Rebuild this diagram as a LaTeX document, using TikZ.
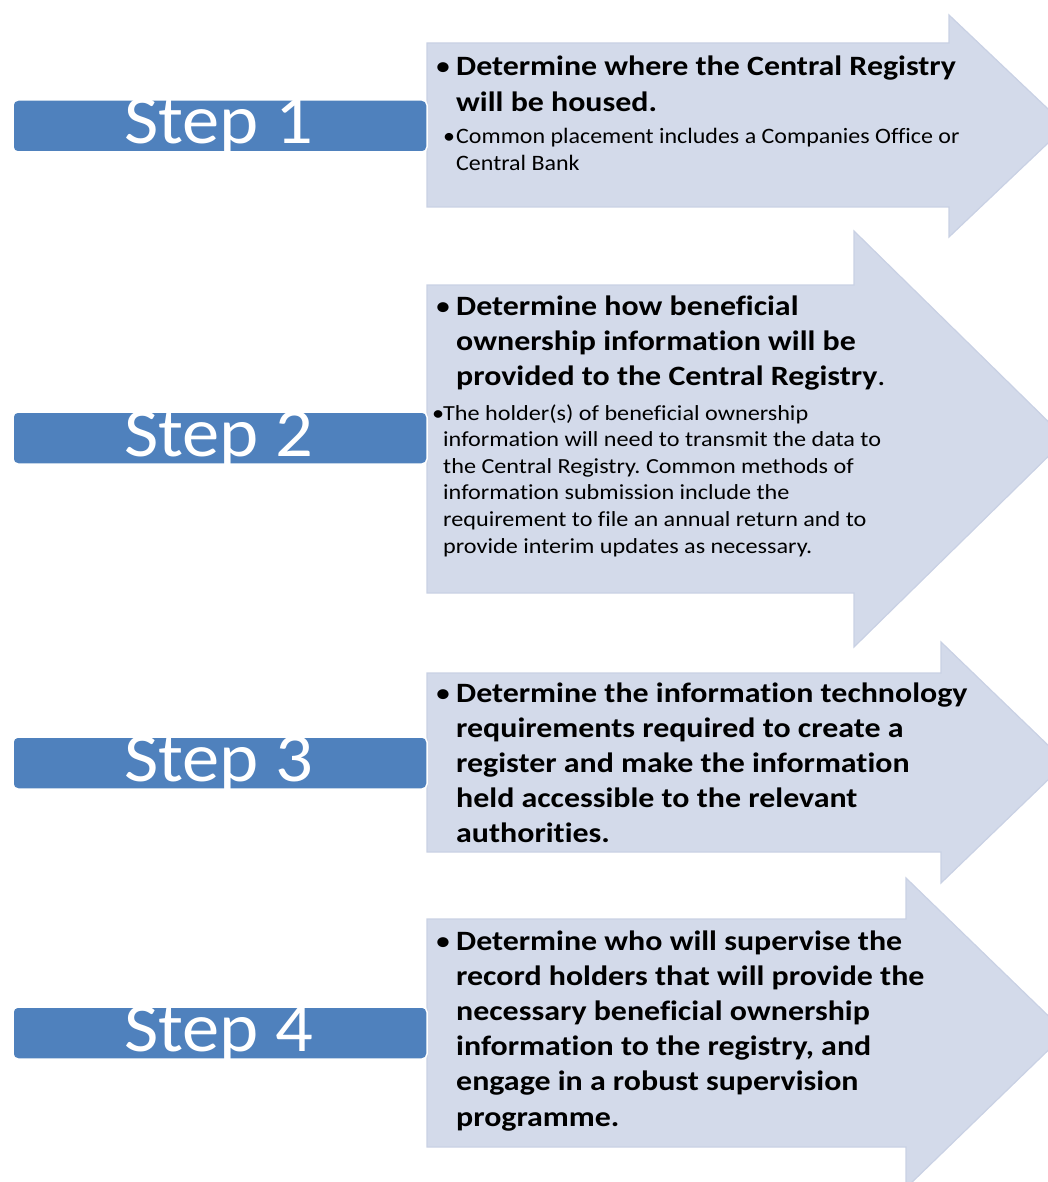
\documentclass[tikz,border=0pt]{standalone}
\usepackage{fontspec}
\setmainfont[Ligatures=NoCommon]{Carlito}
\frenchspacing
\definecolor{arrowfill}{RGB}{211,218,234}
\definecolor{arrowline}{RGB}{201,209,228}
\definecolor{stepblue}{RGB}{79,129,189}
\newcommand\bigarrow[6]{%
  \draw[arrowshape] (427,#1) -- (#3,#1) -- (#3,#4) -- (1066,#6) -- (#3,#5) -- (#3,#2) -- (427,#2) -- cycle;}
\newcommand\blt[1]{\makebox[#1][l]{\mdseries •}}
\begin{document}
\begin{tikzpicture}[x=1pt,y=-1pt,
  arrowshape/.style={fill=arrowfill, draw=arrowline, line width=1.2pt, line join=miter},
  stepbox/.style={fill=stepblue, draw=white, line width=1.5pt, rounded corners=5pt, minimum width=414pt, minimum height=52pt, inner sep=0pt},
  steplabel/.style={text=white, anchor=base, inner sep=0pt, font=\fontsize{70}{70}\selectfont\addfontfeature{FakeStretch=1.065}},
  maintext/.style={anchor=base west, inner sep=0pt, align=left, font=\bfseries\fontsize{28}{35.2}\selectfont\addfontfeature{FakeStretch=1.14}},
  subone/.style={anchor=base west, inner sep=0pt, align=left, font=\fontsize{22}{27}\selectfont\addfontfeature{FakeStretch=1.09}},
  subtwo/.style={anchor=base west, inner sep=0pt, align=left, font=\fontsize{21.5}{26.6}\selectfont\addfontfeature{FakeStretch=1.125}}]
\useasboundingbox (0,0) rectangle (1048,1182);
\begin{scope}
\clip (0,0) rectangle (1048,1182);
\bigarrow{43}{207}{949}{15}{237}{126}
\bigarrow{285}{593}{854}{231}{647}{439}
\bigarrow{673}{852}{941}{642}{883}{762.5}
\bigarrow{919}{1147}{906}{878}{1188}{1033}
\end{scope}
% step boxes
\node[stepbox] (s1) at (220,126) {};
\node[stepbox] (s2) at (220,438) {};
\node[stepbox] (s3) at (220,763) {};
\node[stepbox] (s4) at (220,1033) {};
\node[steplabel] (l1) at (219,144) {Step 1};
\node[steplabel] (l2) at (219,456) {Step 2};
\node[steplabel] (l3) at (219,781) {Step 3};
\node[steplabel] (l4) at (219,1051) {Step 4};
% texts
\node[maintext] (t1) at (435,76) {\begin{tabular}[t]{@{}l@{}l@{}}\blt{21pt}&Determine where the Central Registry\\ &will be housed.\end{tabular}};
\node[subone] (u1) at (443,144) {\begin{tabular}[t]{@{}l@{}l@{}}\blt{13pt}&Common placement includes a Companies Office or\\ &Central Bank\end{tabular}};
\node[maintext] (t2) at (435,315) {\begin{tabular}[t]{@{}l@{}l@{}}\blt{21pt}&Determine how beneficial\\ &ownership information will be\\ &provided to the Central Registry{\mdseries .}\end{tabular}};
\node[subtwo] (u2) at (432,420) {\begin{tabular}[t]{@{}l@{}l@{}}\blt{11pt}&The holder(s) of beneficial ownership\\ &information will need to transmit the data to\\ &the Central Registry. Common methods of\\ &information submission include the\\ &requirement to file an annual return and to\\ &provide interim updates as necessary.\end{tabular}};
\node[maintext] (t3) at (435,702) {\begin{tabular}[t]{@{}l@{}l@{}}\blt{21pt}&Determine the information technology\\ &requirements required to create a\\ &register and make the information\\ &held accessible to the relevant\\ &authorities.\end{tabular}};
\node[maintext] (t4) at (435,950) {\begin{tabular}[t]{@{}l@{}l@{}}\blt{21pt}&Determine who will supervise the\\ &record holders that will provide the\\ &necessary beneficial ownership\\ &information to the registry, and\\ &engage in a robust supervision\\ &programme.\end{tabular}};
\end{tikzpicture}
\end{document}
